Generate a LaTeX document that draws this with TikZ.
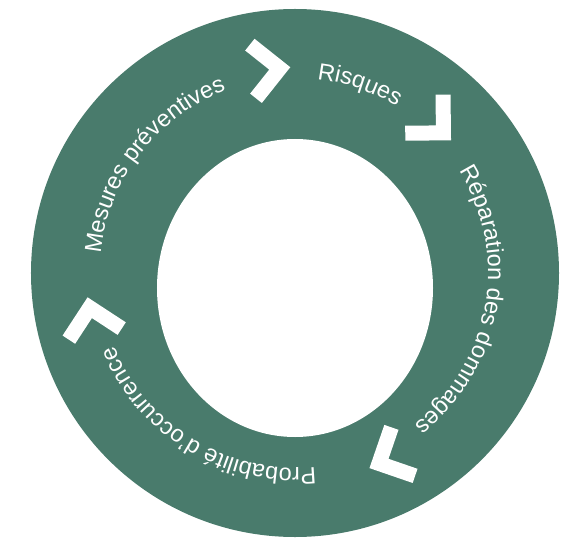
\documentclass[tikz,border=0pt]{standalone}
\usepackage{fontspec}
\newfontfamily\ringfont{Liberation Sans}
\usetikzlibrary{decorations.text}

\definecolor{ringgreen}{RGB}{73,123,108}

\tikzset{
  chevron/.style={draw=white, line width=15pt, line join=miter},
  ringlabel/.style={decorate, decoration={text along path, text align=center,
      text color=white, text={|\ringfont\fontsize{23.5}{27}\selectfont|#1}}}
}

\begin{document}
\begin{tikzpicture}[x=1pt, y=1pt]
  \useasboundingbox (-295,-265) rectangle (280,273);
  % ring
  \fill[ringgreen] (0,0) circle[radius=264];
  \fill[white] (0,-15) ellipse[x radius=138, y radius=149];
  % chevrons, pointing clockwise
  \foreach \a/\r in {96.5/205, 45.6/204, -64/208, -168.2/208}
    \draw[chevron, shift={(\a:\r)}, rotate=\a-90] (-19,27) -- (8,0) -- (-19,-27);
  % labels along the ring
  \path[ringlabel=Risques] (131:195) arc[start angle=131, end angle=11, radius=195];
  \path[ringlabel=Réparation des dommages] (80:193) arc[start angle=80, end angle=-100, radius=193];
  \path[ringlabel=Probabilité d’occurrence] (-41:195) arc[start angle=-41, end angle=-201, radius=195];
  \path[ringlabel=Mesures préventives] (222:195) arc[start angle=222, end angle=63, radius=195];
\end{tikzpicture}
\end{document}
